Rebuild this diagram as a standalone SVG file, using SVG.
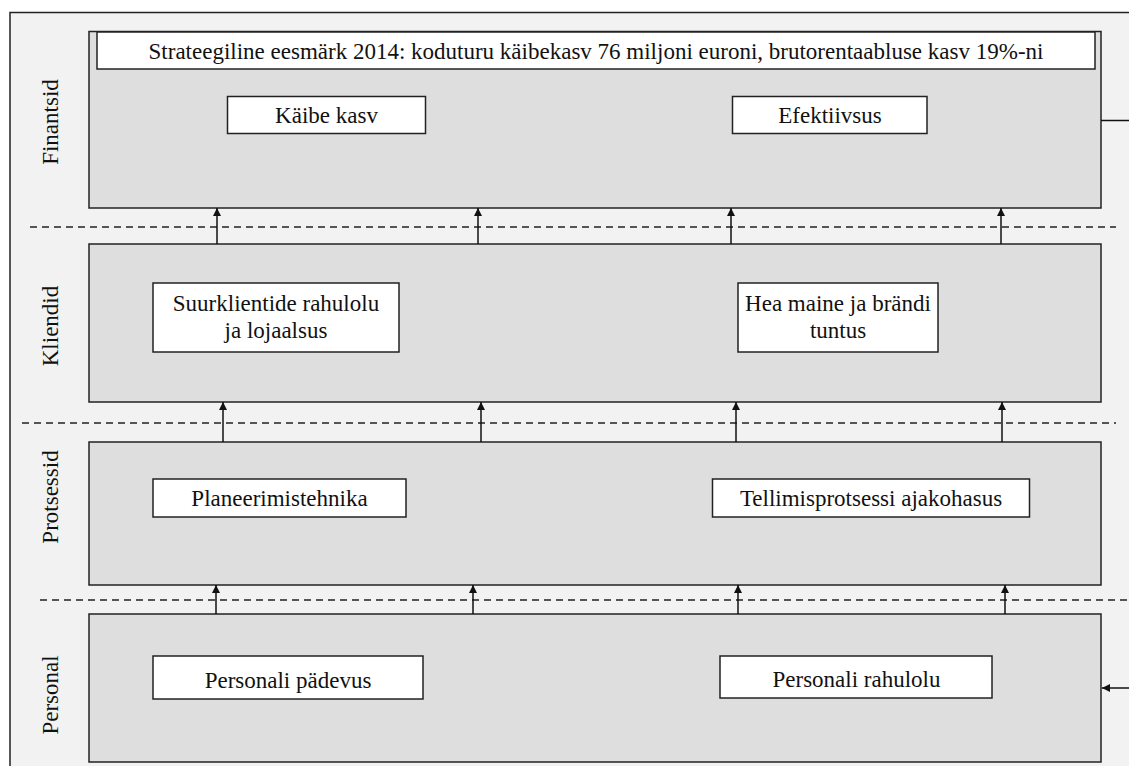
<svg xmlns="http://www.w3.org/2000/svg" width="1129" height="766" viewBox="0 0 1129 766">
  <defs>
    <style>
      .frame { fill: #f2f2f2; stroke: #222; stroke-width: 1.5; }
      .band { fill: #dedede; stroke: #222; stroke-width: 1.5; }
      .box { fill: #ffffff; stroke: #222; stroke-width: 1.5; }
      .sep { stroke: #222; stroke-width: 1.3; stroke-dasharray: 7 5; fill: none; }
      .link { stroke: #111; stroke-width: 1.5; fill: none; marker-end: url(#arrow); }
      .plain { stroke: #111; stroke-width: 1.5; fill: none; }
      text { font-family: "Liberation Serif", "Times New Roman", serif; font-size: 23px; fill: #111; }
      .c { text-anchor: middle; }
    </style>
    <marker id="arrow" viewBox="0 0 10 10" refX="10" refY="5" markerWidth="8" markerHeight="8" markerUnits="userSpaceOnUse" orient="auto">
      <path d="M0,0 L10,5 L0,10 z" fill="#111"/>
    </marker>
  </defs>

  <rect width="1129" height="766" fill="#ffffff"/>
  <!-- outer frame -->
  <rect class="frame" x="10" y="12.5" width="1130" height="770"/>

  <!-- perspective bands -->
  <g id="band-finantsid">
    <rect class="band" x="89" y="31.5" width="1012" height="176.5"/>
    <text class="c" transform="translate(58,122) rotate(-90)">Finantsid</text>
  </g>
  <g id="band-kliendid">
    <rect class="band" x="89" y="244" width="1012" height="158"/>
    <text class="c" transform="translate(58,326) rotate(-90)">Kliendid</text>
  </g>
  <g id="band-protsessid">
    <rect class="band" x="89" y="442" width="1012" height="143"/>
    <text class="c" transform="translate(58,497) rotate(-90)">Protsessid</text>
  </g>
  <g id="band-personal">
    <rect class="band" x="89" y="614" width="1012" height="148"/>
    <text class="c" transform="translate(58,695) rotate(-90)">Personal</text>
  </g>

  <!-- goals -->
  <g id="goal-strateegia">
    <rect class="box" x="97" y="32" width="998" height="37"/>
    <text class="c" x="596" y="59">Strateegiline eesmärk 2014: koduturu käibekasv 76 miljoni euroni, brutorentaabluse kasv 19%-ni</text>
  </g>
  <g id="goal-kaibe-kasv">
    <rect class="box" x="227.5" y="96.5" width="198" height="37"/>
    <text class="c" x="326.5" y="123">Käibe kasv</text>
  </g>
  <g id="goal-efektiivsus">
    <rect class="box" x="732.5" y="96.5" width="194.5" height="37"/>
    <text class="c" x="830" y="123">Efektiivsus</text>
  </g>
  <g id="goal-suurkliendid">
    <rect class="box" x="153" y="283" width="246" height="69"/>
    <text class="c" x="276" y="311">Suurklientide rahulolu</text>
    <text class="c" x="276" y="338">ja lojaalsus</text>
  </g>
  <g id="goal-maine">
    <rect class="box" x="738" y="283" width="200" height="69"/>
    <text class="c" x="838" y="311">Hea maine ja brändi</text>
    <text class="c" x="838" y="338">tuntus</text>
  </g>
  <g id="goal-planeerimine">
    <rect class="box" x="153" y="479" width="253" height="38"/>
    <text class="c" x="279.5" y="506">Planeerimistehnika</text>
  </g>
  <g id="goal-tellimine">
    <rect class="box" x="712.5" y="479" width="317" height="38"/>
    <text class="c" x="871" y="506">Tellimisprotsessi ajakohasus</text>
  </g>
  <g id="goal-padevus">
    <rect class="box" x="153" y="656" width="270" height="43"/>
    <text class="c" x="288" y="688">Personali pädevus</text>
  </g>
  <g id="goal-rahulolu">
    <rect class="box" x="720" y="656" width="272" height="42"/>
    <text class="c" x="856.5" y="687">Personali rahulolu</text>
  </g>

  <!-- separators and links -->
  <g id="connectors">
    <line class="sep" x1="30" y1="227" x2="1116" y2="227"/>
    <line class="sep" x1="22" y1="423" x2="1116" y2="423"/>
    <line class="sep" x1="40" y1="600" x2="1129" y2="600"/>

    <line class="link" x1="217" y1="244" x2="217" y2="208"/>
    <line class="link" x1="478" y1="244" x2="478" y2="208"/>
    <line class="link" x1="731" y1="244" x2="731" y2="208"/>
    <line class="link" x1="1001" y1="244" x2="1001" y2="208"/>

    <line class="link" x1="223" y1="442" x2="223" y2="402"/>
    <line class="link" x1="481" y1="442" x2="481" y2="402"/>
    <line class="link" x1="736" y1="442" x2="736" y2="402"/>
    <line class="link" x1="1002" y1="442" x2="1002" y2="402"/>

    <line class="link" x1="216" y1="614" x2="216" y2="585"/>
    <line class="link" x1="473" y1="614" x2="473" y2="585"/>
    <line class="link" x1="738" y1="614" x2="738" y2="585"/>
    <line class="link" x1="1005" y1="614" x2="1005" y2="585"/>

    <line class="plain" x1="1101" y1="120.5" x2="1129" y2="120.5"/>
    <line class="link" x1="1129" y1="688" x2="1102" y2="688"/>
  </g>
</svg>
